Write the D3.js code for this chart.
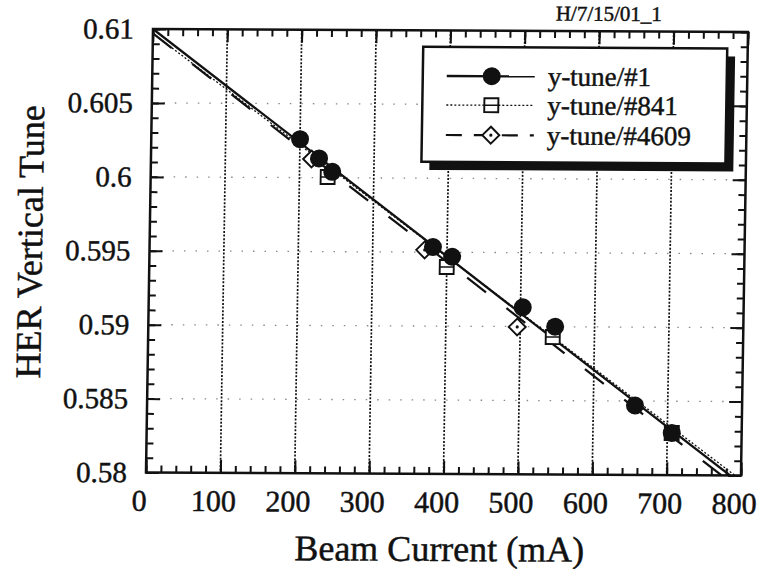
<!DOCTYPE html>
<html>
<head>
<meta charset="utf-8">
<script src="https://cdn.jsdelivr.net/npm/d3@7"></script>
<style>
  html, body { margin: 0; padding: 0; background: #fff; }
  svg { display: block; }
  text { font-family: "Liberation Serif", "Times New Roman", serif; fill: #111; stroke: #111; stroke-width: 0.45px; }
</style>
</head>
<body>
<svg id="chart" width="760" height="569"></svg>
<script>
// HER vertical tune versus beam current, three measurement sets with linear fits
const seriesNames = ["y-tune/#1", "y-tune/#841", "y-tune/#4609"];

const current1 = [200, 226, 244, 381, 407, 503, 547, 656, 706];
const tune1    = [0.6026, 0.6013, 0.6004, 0.59535, 0.5947, 0.5913, 0.5900, 0.5847, 0.58285];

const current841 = [238, 400, 544, 706];
const tune841    = [0.60005, 0.5940, 0.5893, 0.58285];

const current4609 = [216, 370, 496];
const tune4609    = [0.60126, 0.59515, 0.58997];

// fit lines: values at 0 mA and 800 mA
const fitCurrent = [0, 800];
const fit1    = [0.6100, 0.57944];
const fit841  = [0.6097, 0.5797];
const fit4609 = [0.6097, 0.5790];

const xTicks = [0, 100, 200, 300, 400, 500, 600, 700, 800];
const yTicks = [0.58, 0.585, 0.59, 0.595, 0.6, 0.605, 0.61];
const yTickLabels = ["0.58", "0.585", "0.59", "0.595", "0.6", "0.605", "0.61"];
const xMinor = d3.range(0, 801, 20);
const yMinor = d3.range(0, 31).map(i => 0.58 + i * 0.001);

const stamp = "H/7/15/01_1";
const xTitle = "Beam Current (mA)";
const yTitle = "HER Vertical Tune";

const svg = d3.select("#chart");
// slight slant of the whole sheet
const root = svg.append("g").attr("transform", "matrix(1,0.0051,-0.0158,1,3.98,-2.28)");

const L = 149.5, R = 744.5, T = 30.5, B = 474;
const x = d3.scaleLinear().domain([0, 800]).range([L, R]);
const y = d3.scaleLinear().domain([0.58, 0.61]).range([B, T]);

root.append("defs").append("clipPath").attr("id", "plotClip")
  .append("rect").attr("x", L).attr("y", T).attr("width", R - L).attr("height", B - T);

// grid
const grid = root.append("g");
grid.selectAll("line.vg").data(xTicks.slice(1, -1)).join("line")
  .attr("x1", d => x(d)).attr("x2", d => x(d)).attr("y1", T).attr("y2", B)
  .attr("stroke", "#111").attr("stroke-width", 1.7).attr("stroke-dasharray", "2,1.6");
grid.selectAll("line.hg").data(yTicks.slice(1, -1)).join("line")
  .attr("x1", L).attr("x2", R).attr("y1", d => y(d)).attr("y2", d => y(d))
  .attr("stroke", "#888").attr("stroke-width", 1.3).attr("stroke-dasharray", "1.5,10");

// axes with inward ticks
function styleAxis(g) {
  g.select(".domain").remove();
  g.selectAll(".tick line").attr("stroke", "#111").attr("stroke-width", 2);
}
const fmtY = d => yTickLabels[yTicks.findIndex(v => Math.abs(v - d) < 1e-9)];

root.append("g").attr("transform", `translate(0,${B})`)
  .call(d3.axisBottom(x).tickValues(xMinor).tickSize(-7).tickFormat("")).call(styleAxis);
root.append("g").attr("transform", `translate(0,${B})`)
  .call(d3.axisBottom(x).tickValues(xTicks).tickSize(-13).tickSizeOuter(0).tickPadding(17).tickFormat(d3.format("d")))
  .call(styleAxis)
  .call(g => g.selectAll("text").attr("font-size", 30).attr("dx", -7));

root.append("g").attr("transform", `translate(0,${T})`)
  .call(d3.axisTop(x).tickValues(xMinor).tickSize(-7).tickFormat("")).call(styleAxis);
root.append("g").attr("transform", `translate(0,${T})`)
  .call(d3.axisTop(x).tickValues(xTicks).tickSize(-13).tickFormat("")).call(styleAxis);

root.append("g").attr("transform", `translate(${L},0)`)
  .call(d3.axisLeft(y).tickValues(yMinor).tickSize(-7).tickFormat("")).call(styleAxis);
root.append("g").attr("transform", `translate(${L},0)`)
  .call(d3.axisLeft(y).tickValues(yTicks).tickSize(-13).tickPadding(19).tickFormat(fmtY))
  .call(styleAxis)
  .call(g => g.selectAll("text").attr("font-size", 29));

root.append("g").attr("transform", `translate(${R},0)`)
  .call(d3.axisRight(y).tickValues(yMinor).tickSize(-7).tickFormat("")).call(styleAxis);
root.append("g").attr("transform", `translate(${R},0)`)
  .call(d3.axisRight(y).tickValues(yTicks).tickSize(-13).tickFormat("")).call(styleAxis);

// frame
root.append("rect").attr("x", L).attr("y", T).attr("width", R - L).attr("height", B - T)
  .attr("fill", "none").attr("stroke", "#111").attr("stroke-width", 2.5);

// fit lines
const line = d3.line().x(d => x(d[0])).y(d => y(d[1]));
const fits = [
  { vals: fit1, w: 2.3, dash: null },
  { vals: fit841, w: 1.3, dash: "2,2" },
  { vals: fit4609, w: 2.2, dash: "24,26" }
];
const fitG = root.append("g").attr("clip-path", "url(#plotClip)");
fits.forEach(f => {
  fitG.append("path").datum(d3.zip(fitCurrent, f.vals)).attr("d", line)
    .attr("fill", "none").attr("stroke", "#111").attr("stroke-width", f.w)
    .attr("stroke-dasharray", f.dash);
});

// marker drawers
function square(g, cx, cy) {
  g.append("rect").attr("x", cx - 7).attr("y", cy - 7).attr("width", 14).attr("height", 14)
    .attr("fill", "#fff").attr("stroke", "#111").attr("stroke-width", 1.9);
  g.append("line").attr("x1", cx - 7).attr("x2", cx + 7).attr("y1", cy).attr("y2", cy)
    .attr("stroke", "#111").attr("stroke-width", 1.5);
}
function diamond(g, cx, cy) {
  const r = 8.5;
  g.append("path").attr("d", `M${cx - r},${cy}L${cx},${cy - r}L${cx + r},${cy}L${cx},${cy + r}Z`)
    .attr("fill", "#fff").attr("stroke", "#111").attr("stroke-width", 1.9);
  g.append("circle").attr("cx", cx).attr("cy", cy).attr("r", 1.6).attr("fill", "#111");
}
function dot(g, cx, cy) {
  g.append("circle").attr("cx", cx).attr("cy", cy).attr("r", 9).attr("fill", "#111");
}

const markG = root.append("g");
d3.zip(current841, tune841).forEach(([c, t]) => square(markG, x(c), y(t)));
d3.zip(current4609, tune4609).forEach(([c, t]) => diamond(markG, x(c), y(t)));
d3.zip(current1, tune1).forEach(([c, t]) => dot(markG, x(c), y(t)));

// legend
const lg = root.append("g");
lg.append("rect").attr("x", 428).attr("y", 55).attr("width", 304).attr("height", 115).attr("fill", "#111");
lg.append("rect").attr("x", 420).attr("y", 47).attr("width", 304).attr("height", 115)
  .attr("fill", "#fff").attr("stroke", "#111").attr("stroke-width", 2.5);
const rowsY = [76, 105, 135];
const drawers = [dot, square, diamond];
seriesNames.forEach((name, i) => {
  lg.append("line").attr("x1", 444).attr("x2", 532).attr("y1", rowsY[i]).attr("y2", rowsY[i])
    .attr("stroke", "#111").attr("stroke-width", fits[i].w)
    .attr("stroke-dasharray", i === 0 ? null : (i === 1 ? "2,2" : "16,12"));
  drawers[i](lg, 489, rowsY[i]);
  lg.append("text").attr("x", 545).attr("y", rowsY[i] + 9).attr("font-size", 27).text(name);
});

// titles
root.append("text").attr("x", 444).attr("y", 561).attr("text-anchor", "middle")
  .attr("font-size", 36).text(xTitle);
root.append("text").attr("transform", "translate(42,244) rotate(-90)").attr("text-anchor", "middle")
  .attr("font-size", 36).text(yTitle);
root.append("text").attr("x", 552).attr("y", 20).attr("font-size", 21).attr("stroke-width", 0.2).text(stamp);
</script>
</body>
</html>
